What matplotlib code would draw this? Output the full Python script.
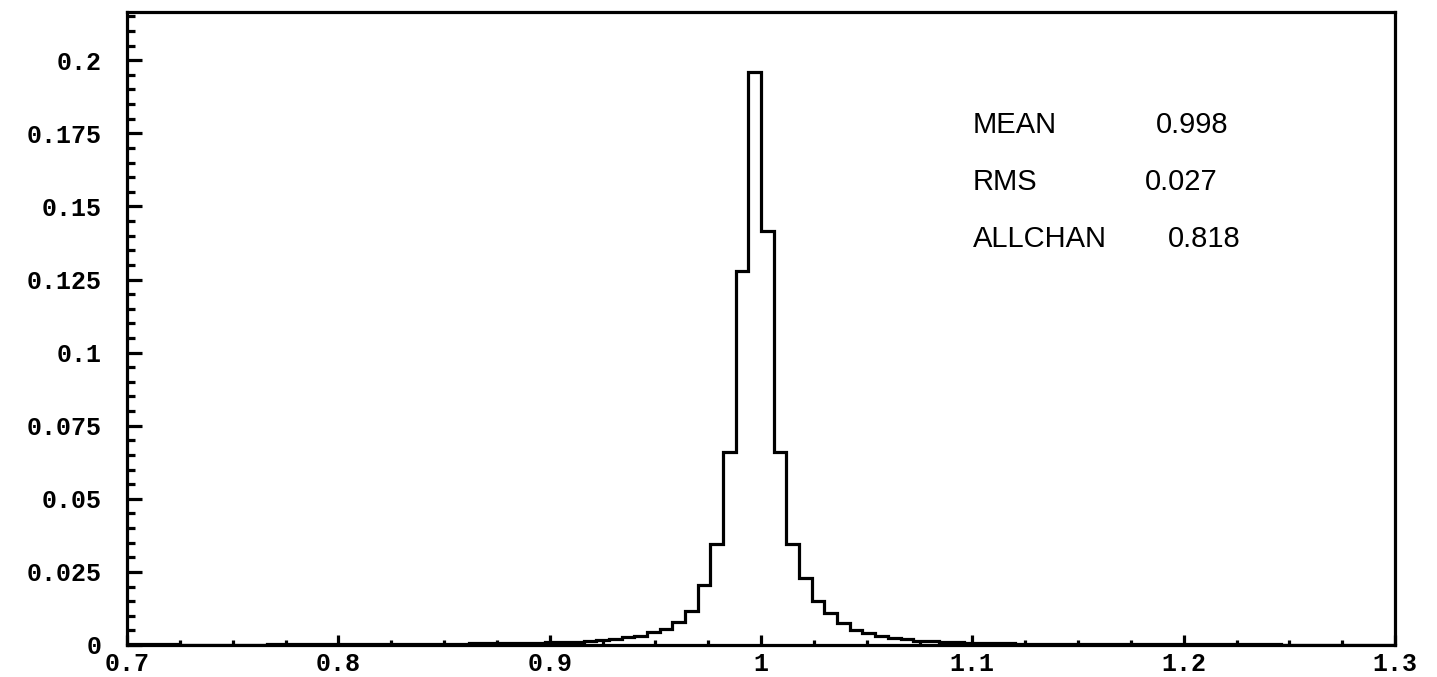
import numpy as np
import matplotlib
matplotlib.use("Agg")
import matplotlib.pyplot as plt
from matplotlib.ticker import FixedLocator, MultipleLocator
from matplotlib.font_manager import FontProperties

# histogram: 100 bins of width 0.006 between 0.7 and 1.3
x_lo, x_hi, n_bins = 0.7, 1.3, 100
heights = [
    0.0002, 0.0004, 0.0004, 0.0002, 0.0001, 0.0001, 0.0001, 0.0001, 0.0001, 0.0001,
    0.0001, 0.0002, 0.0002, 0.0002, 0.0002, 0.0002, 0.0002, 0.0003, 0.0003, 0.0003,
    0.0003, 0.0003, 0.0004, 0.0004, 0.0004, 0.0005, 0.0005, 0.0006, 0.0006, 0.0006,
    0.0007, 0.0007, 0.0008, 0.0009, 0.0010, 0.0011, 0.0013, 0.0016, 0.0020, 0.0026,
    0.0032, 0.0045, 0.0054, 0.0080, 0.0116, 0.0205, 0.0345, 0.0660, 0.1280, 0.1960,
    0.1415, 0.0660, 0.0345, 0.0230, 0.0152, 0.0108, 0.0076, 0.0050, 0.0040, 0.0031,
    0.0024, 0.0019, 0.0015, 0.0013, 0.0011, 0.0009, 0.0008, 0.0007, 0.0007, 0.0006,
    0.0005, 0.0005, 0.0005, 0.0004, 0.0004, 0.0003, 0.0003, 0.0003, 0.0003, 0.0003,
    0.0003, 0.0003, 0.0002, 0.0002, 0.0002, 0.0002, 0.0002, 0.0002, 0.0002, 0.0002,
    0.0002, 0.0001, 0.0001, 0.0001, 0.0001, 0.0001, 0.0001, 0.0001, 0.0001, 0.0001,
]

x_ticks = [0.7, 0.8, 0.9, 1.0, 1.1, 1.2, 1.3]
x_labels = ["0.7", "0.8", "0.9", "1", "1.1", "1.2", "1.3"]
y_ticks = [0, 0.025, 0.05, 0.075, 0.1, 0.125, 0.15, 0.175, 0.2]
y_labels = ["0", "0.025", "0.05", "0.075", "0.1", "0.125", "0.15", "0.175", "0.2"]

stat_names = ["MEAN", "RMS", "ALLCHAN"]
stat_values = ["0.998", "0.027", "0.818"]

edges = np.linspace(x_lo, x_hi, n_bins + 1)

fig = plt.figure(figsize=(14.37, 6.77), dpi=100)
ax = fig.add_axes([0.0884, 0.0473, 0.8824, 0.935])

ax.stairs(heights, edges, baseline=0, color="black", linewidth=2.3)

ax.set_xlim(x_lo, x_hi)
ax.set_ylim(0, 0.2165)

for s in ax.spines.values():
    s.set_linewidth(2.3)

ax.xaxis.set_major_locator(FixedLocator(x_ticks))
ax.xaxis.set_minor_locator(MultipleLocator(0.025))
ax.yaxis.set_major_locator(FixedLocator(y_ticks))
ax.yaxis.set_minor_locator(MultipleLocator(0.005))
ax.set_xticklabels(x_labels)
ax.set_yticklabels(y_labels)

tick_fp = FontProperties(family="Liberation Mono", weight="bold", size=18)
for lab in ax.get_xticklabels() + ax.get_yticklabels():
    lab.set_fontproperties(tick_fp)

ax.tick_params(axis="x", which="major", direction="in", length=7, width=2.3, pad=5)
ax.tick_params(axis="x", which="minor", direction="in", length=3.5, width=2.3)
ax.tick_params(axis="y", which="major", direction="in", length=10.5, width=2.3, pad=18)
ax.tick_params(axis="y", which="minor", direction="in", length=5.5, width=2.3)

row_y = [0.809, 0.719, 0.629]
val_x = [0.811, 0.803, 0.821]
for name, val, yy, vx in zip(stat_names, stat_values, row_y, val_x):
    ax.text(0.667, yy, name, transform=ax.transAxes, fontsize=21,
            family="Liberation Sans", va="baseline", ha="left")
    ax.text(vx, yy, val, transform=ax.transAxes, fontsize=21,
            family="Liberation Sans", va="baseline", ha="left")

fig.savefig("out.png", dpi=100, facecolor="white")
